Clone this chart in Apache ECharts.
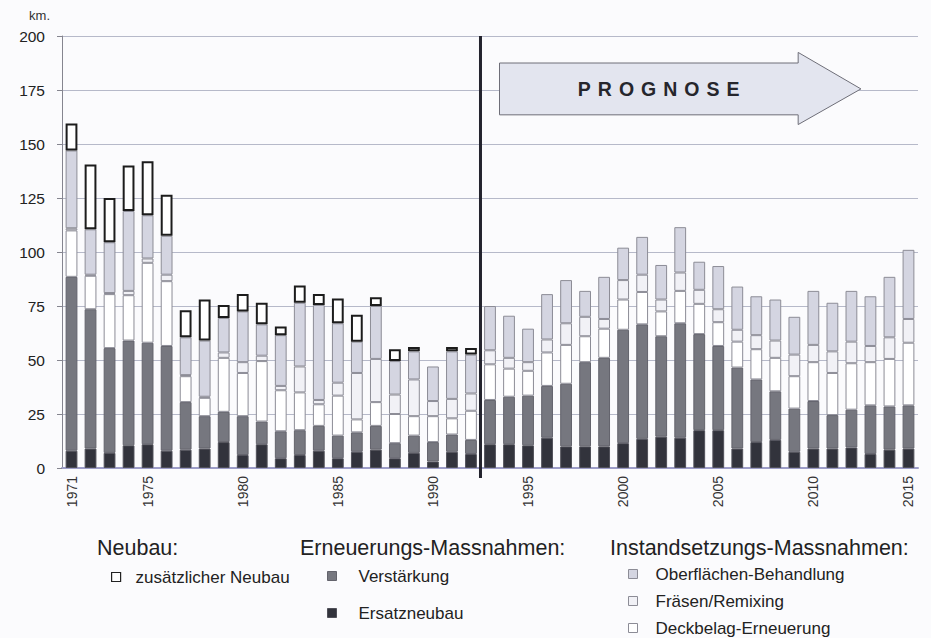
<!DOCTYPE html>
<html>
<head>
<meta charset="utf-8">
<script src="https://cdn.jsdelivr.net/npm/echarts@6/dist/echarts.min.js"></script>
<style>
html,body{margin:0;padding:0;background:#fbfbfd;}
#c{width:931px;height:638px;}
</style>
</head>
<body>
<div id="c"></div>
<script>
const years = ['1971','1972','1973','1974','1975','1976','1977','1978','1979','1980',
  '1981','1982','1983','1984','1985','1986','1987','1988','1989','1990',
  '1991','1992','1993','1994','1995','1996','1997','1998','1999','2000',
  '2001','2002','2003','2004','2005','2006','2007','2008','2009','2010',
  '2011','2012','2013','2014','2015'];
const yTicks = [0, 25, 50, 75, 100, 125, 150, 175, 200];

const ersatzneubau = [8, 9, 7, 10.5, 11, 8, 8.5, 9, 12, 6,
  11, 4.5, 6, 8, 4.5, 7.5, 8.5, 4.5, 7, 3,
  7.5, 6.5, 11, 11, 10.5, 14, 10, 10, 10, 11.5,
  13.5, 14.5, 14, 17.5, 17.5, 9, 12, 13, 7.5, 9,
  9, 9.5, 6.5, 8.5, 9];
const verstaerkung = [80.5, 64.5, 48.5, 48.5, 47, 48.5, 22, 15, 14, 18,
  10.5, 12.5, 11.5, 11.5, 10.5, 9, 11, 7, 8, 9,
  8, 6.5, 20.5, 22, 23, 24, 29, 39, 41, 52.5,
  53, 46.5, 53, 44.5, 39, 37.5, 29, 22.5, 20, 22,
  15.5, 17.5, 22.5, 20, 20];
const deckbelag = [21.5, 15.5, 25, 21, 37, 30, 12, 8.5, 25, 20,
  28, 19, 17.5, 10, 18.5, 6, 11, 13.5, 9, 12,
  7.5, 13.5, 16.5, 13, 11.5, 15.5, 18, 12, 13.5, 14,
  15, 11.5, 15, 14, 11, 12, 14, 15.5, 15, 18,
  19.5, 21.5, 20, 22, 29];
const fraesen = [1, 0.5, 0.5, 2, 2, 3, 0.5, 0.5, 2.5, 5,
  2.5, 2, 12, 2, 6, 21.5, 20, 9, 17, 7,
  9, 8, 6.5, 5, 4, 6, 10, 9, 4.5, 9,
  8, 5.5, 8.5, 6.5, 6, 5.5, 6.5, 8, 10, 8,
  10, 10, 7.5, 10, 11];
const oberflaeche = [36, 21, 23.5, 37, 20, 18, 17.5, 26, 16, 23.5,
  14.5, 23.5, 29.5, 44, 27.5, 14.5, 24.5, 15.5, 13, 16,
  22, 18, 20.5, 19.5, 15.5, 21, 20, 12, 19.5, 15,
  17.5, 16, 21, 13, 20, 20, 18, 19, 17.5, 25,
  22.5, 23.5, 23, 28, 32];
const neubau = [12.5, 30, 20.5, 21, 25, 19, 12.5, 19, 6, 8,
  10, 4, 8, 5, 11.5, 12.5, 4, 5.5, 2, null,
  2, 3, null, null, null, null, null, null, null, null,
  null, null, null, null, null, null, null, null, null, null,
  null, null, null, null, null];

const seriesNames = ['Ersatzneubau','Verstärkung','Deckbelag-Erneuerung','Fräsen/Remixing','Oberflächen-Behandlung','zusätzlicher Neubau'];
const seriesData = [ersatzneubau, verstaerkung, deckbelag, fraesen, oberflaeche, neubau];
const fills = ['#32333c', '#76777f', '#ffffff', '#f1f1f6', '#d4d5e1', '#ffffff'];
const borders = ['#505059', '#63636c', '#8c8c96', '#8c8c96', '#8c8c96', '#1c1c1c'];
const borderW = [1, 1, 1, 1, 1, 2];

const FONT = 'Liberation Sans, Arial, sans-serif';

const chart = echarts.init(document.getElementById('c'), null, {renderer: 'svg'});

const series = seriesNames.map((n, i) => ({
  name: n,
  type: 'bar',
  stack: 'total',
  barWidth: '62%',
  data: seriesData[i],
  itemStyle: {color: fills[i], borderColor: borders[i], borderWidth: borderW[i]},
  emphasis: {disabled: true}
}));

const legendBase = {
  orient: 'vertical',
  icon: 'rect',
  itemWidth: 9,
  itemHeight: 9,
  padding: 0,
  height: 100,
  selectedMode: false,
  textStyle: {fontFamily: FONT, fontSize: 17, color: '#222', lineHeight: 20}
};

const option = {
  animation: false,
  backgroundColor: '#fbfbfd',
  grid: {left: 62, right: 13, top: 36, bottom: 170},
  xAxis: {
    type: 'category',
    data: years,
    axisLine: {lineStyle: {color: '#9d9dc8', width: 2}},
    axisTick: {interval: 0, length: 6, lineStyle: {color: '#666'}},
    axisLabel: {
      interval: (idx, val) => val === years[0] || Number(val) % 5 === 0,
      rotate: 90, margin: 8, fontFamily: FONT, fontSize: 14, color: '#333'
    },
    splitLine: {show: false}
  },
  yAxis: {
    type: 'value',
    min: yTicks[0], max: yTicks[yTicks.length - 1], interval: yTicks[1] - yTicks[0],
    name: 'km.',
    nameLocation: 'end',
    nameGap: 14,
    nameTextStyle: {fontFamily: FONT, fontSize: 13, color: '#333', align: 'right', padding: [0, 12, 0, 0]},
    axisLine: {show: true, lineStyle: {color: '#85858f', width: 1}},
    axisTick: {show: true, length: 5, lineStyle: {color: '#85858f'}},
    axisLabel: {fontFamily: FONT, fontSize: 15.5, color: '#222', margin: 17},
    splitLine: {lineStyle: {color: '#b6b9c9', width: 1}}
  },
  legend: [
    Object.assign({}, legendBase, {
      data: ['zusätzlicher Neubau'], left: 111, top: 567,
      itemStyle: {borderWidth: 1.2, borderColor: '#222'},
      textStyle: Object.assign({}, legendBase.textStyle, {padding: [0, 0, 0, 10]})
    }),
    Object.assign({}, legendBase, {
      data: ['Verstärkung', 'Ersatzneubau'], left: 327, top: 566, itemGap: 17,
      itemStyle: {borderWidth: 1},
      textStyle: Object.assign({}, legendBase.textStyle, {padding: [0, 0, 0, 17]})
    }),
    Object.assign({}, legendBase, {
      data: ['Oberflächen-Behandlung', 'Fräsen/Remixing', 'Deckbelag-Erneuerung'], left: 628, top: 564, itemGap: 7,
      itemStyle: {borderWidth: 1},
      textStyle: Object.assign({}, legendBase.textStyle, {padding: [0, 0, 0, 13]})
    })
  ],
  series: series
};
chart.setOption(option);

// annotations placed through the chart's own scales
const c0 = chart.convertToPixel({xAxisIndex: 0}, years[0]);
const c1 = chart.convertToPixel({xAxisIndex: 0}, years[1]);
const step = c1 - c0;
const px = i => c0 + i * step;
const py = v => chart.convertToPixel({yAxisIndex: 0}, v);
const splitIdx = years.indexOf('1993') - 0.5;

const arrowPts = [
  [px(22.5), py(187.5)], [px(38.2), py(187.5)], [px(38.2), py(192.4)],
  [px(41.5), py(175.5)], [px(38.2), py(159)], [px(38.2), py(163.5)],
  [px(22.5), py(163.5)]
];

chart.setOption({
  graphic: [
    {type: 'polygon', shape: {points: arrowPts}, style: {fill: '#e3e5ef', stroke: '#6e6e78', lineWidth: 1}, z: 10},
    {type: 'text', id: 'prog', x: px(31.05), y: py(175.5), style: {text: 'PROGNOSE', fill: '#26262c', font: 'bold 19.5px ' + FONT, textAlign: 'center', textVerticalAlign: 'middle'}, z: 11},
    {type: 'line', shape: {x1: px(splitIdx), y1: py(200), x2: px(splitIdx), y2: py(0) + 10}, style: {stroke: '#23232d', lineWidth: 3}, z: 12},
    {type: 'text', x: 97, y: 548, style: {text: 'Neubau:', fill: '#222', font: '21.5px ' + FONT, textVerticalAlign: 'middle'}},
    {type: 'text', x: 300, y: 548, style: {text: 'Erneuerungs-Massnahmen:', fill: '#222', font: '21.5px ' + FONT, textVerticalAlign: 'middle'}},
    {type: 'text', x: 610, y: 548, style: {text: 'Instandsetzungs-Massnahmen:', fill: '#222', font: '21.5px ' + FONT, textVerticalAlign: 'middle'}}
  ]
});

// letter spacing of the PROGNOSE label (svg renderer)
document.querySelectorAll('#c text').forEach(t => {
  if (t.textContent === 'PROGNOSE') { t.setAttribute('letter-spacing', '7px'); }
});
</script>
</body>
</html>
